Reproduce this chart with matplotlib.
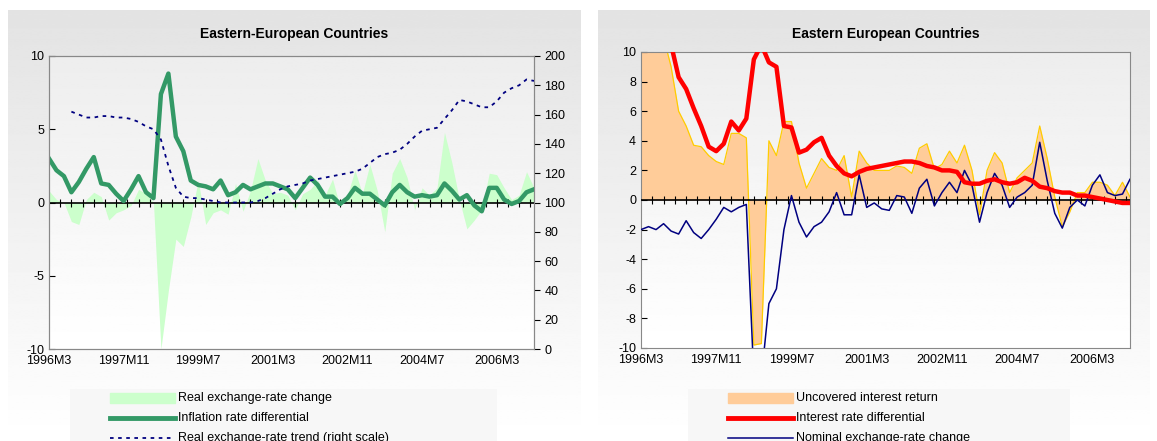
import numpy as np
import matplotlib.pyplot as plt
from matplotlib.patches import Rectangle

plt.rcParams['font.family'] = ['Liberation Sans', 'DejaVu Sans']
plt.rcParams['axes.unicode_minus'] = False

tick_labels = ["1996M3", "1997M11", "1999M7", "2001M3", "2002M11", "2004M7", "2006M3"]
tick_months = [0, 20, 40, 60, 80, 100, 120]

# values every 2 months starting 1996M3 (month index 0,2,...,130)
infl_diff = [3.0, 2.2, 1.8, 0.7, 1.4, 2.3, 3.1, 1.3, 1.2, 0.6, 0.1, 0.9, 1.8, 0.7, 0.3, 7.4, 8.8, 4.5,
             3.5, 1.5, 1.2, 1.1, 0.9, 1.5, 0.5, 0.7, 1.2, 0.9, 1.1, 1.3, 1.3, 1.1, 0.9, 0.3, 1.0, 1.7,
             1.2, 0.4, 0.4, -0.1, 0.3, 1.0, 0.6, 0.6, 0.2, -0.2, 0.7, 1.2, 0.7, 0.4, 0.5, 0.4, 0.5,
             1.3, 0.8, 0.2, 0.5, -0.2, -0.6, 1.0, 1.0, 0.2, -0.1, 0.1, 0.7, 0.9]
real_fx = [0.8, 0.2, 0.0, -1.3, -1.5, 0.2, 0.7, 0.4, -1.2, -0.7, -0.5, -0.2, 0.9, 0.6, 0.0, -10.0, -6.0,
           -2.5, -3.0, -1.0, 1.5, -1.5, -0.7, -0.5, -0.8, 1.3, -0.6, 0.8, 3.0, 1.5, 0.6, 0.7, 0.5,
           -0.5, 0.6, 0.9, 1.5, 0.5, 1.6, -0.3, 0.5, 2.2, 0.6, 2.6, 0.8, -2.0, 2.0, 3.0, 1.7, -0.5,
           1.0, 0.5, 1.0, 4.8, 2.7, 0.2, -1.8, -1.2, -0.5, 2.0, 1.9, 1.0, 0.2, 0.5, 2.1, 1.0]
real_trend = [np.nan, np.nan, np.nan, 162, 160, 158, 158, 159, 159, 158, 158, 157, 155, 152, 150, 143,
              125, 110, 104, 103, 103, 102, 101, 100, 100, 100, 100, 100, 101, 103, 106, 109, 111,
              112, 113, 115, 116, 117, 118, 119, 120, 121, 123, 127, 131, 133, 134, 136, 140, 145,
              149, 150, 151, 157, 163, 170, 169, 167, 165, 165, 169, 175, 178, 180, 184, 183]

int_diff = [14, 14, 13, 12, 10.5, 8.3, 7.5, 6.2, 5.0, 3.6, 3.3, 3.8, 5.3, 4.7, 5.5, 9.5, 10.5, 9.3,
            9.0, 5.0, 4.9, 3.2, 3.4, 3.9, 4.2, 3.0, 2.3, 1.8, 1.6, 1.9, 2.1, 2.2, 2.3, 2.4, 2.5, 2.6,
            2.6, 2.5, 2.3, 2.2, 2.0, 2.0, 1.9, 1.2, 1.1, 1.1, 1.3, 1.4, 1.2, 1.1, 1.2, 1.5, 1.3, 0.9,
            0.8, 0.6, 0.5, 0.5, 0.3, 0.3, 0.2, 0.1, 0.0, -0.1, -0.2, -0.2]
nominal_fx = [-2.0, -1.8, -2.0, -1.6, -2.1, -2.3, -1.4, -2.2, -2.6, -2.0, -1.3, -0.5, -0.8, -0.5, -0.3,
              -12, -12, -7.0, -6.0, -2.0, 0.3, -1.5, -2.5, -1.8, -1.5, -0.8, 0.5, -1.0, -1.0, 1.7,
              -0.5, -0.2, -0.6, -0.7, 0.3, 0.2, -0.9, 0.8, 1.4, -0.4, 0.5, 1.2, 0.5, 2.0, 1.0, -1.5,
              0.5, 1.8, 1.0, -0.5, 0.2, 0.5, 1.0, 3.9, 1.3, -0.9, -1.9, -0.5, 0.0, -0.4, 1.0, 1.7,
              0.5, 0.3, 0.4, 1.4]
uncovered = [12, 12, 12, 11, 9, 6, 5, 3.7, 3.6, 3.0, 2.6, 2.4, 4.5, 4.5, 4.2, -9.8, -9.7, 4.0, 3.0,
             5.3, 5.3, 2.5, 0.8, 1.8, 2.8, 2.2, 2.0, 3.0, 0.2, 3.3, 2.5, 2.0, 2.0, 2.0, 2.3, 2.2,
             1.8, 3.5, 3.8, 2.1, 2.4, 3.3, 2.5, 3.7, 2.0, -1.0, 2.0, 3.2, 2.5, 0.5, 1.5, 2.0, 2.5,
             5.0, 2.8, 0.2, -1.8, -0.8, 0.5, 0.5, 1.2, 1.2, 1.0, 0.3, 1.2, 0.2]

x = np.arange(len(infl_diff)) * 2
W, H = 1157, 441
fig = plt.figure(figsize=(W / 100, H / 100), dpi=100)
fig.patch.set_facecolor("white")

grad = np.linspace(0.89, 1.0, 256).reshape(-1, 1)
def panel(x0, x1, y0, y1):
    a = fig.add_axes([x0 / W, 1 - y1 / H, (x1 - x0) / W, (y1 - y0) / H], zorder=-5)
    a.imshow(grad, cmap="gray", vmin=0, vmax=1, aspect="auto", extent=[0, 1, 0, 1])
    a.axis("off")

panel(8, 581, 10, 441)
panel(598, 1150, 10, 441)

def mk_ax(x0, x1, y0, y1):
    a = fig.add_axes([x0 / W, 1 - y1 / H, (x1 - x0) / W, (y1 - y0) / H])
    a.set_facecolor("none")
    a.imshow(np.linspace(0.93, 1.0, 256).reshape(-1, 1), cmap="gray", vmin=0, vmax=1,
             aspect="auto", extent=[0, 130, -10, 10], zorder=-1)
    a.set_xlim(0, 130)
    a.set_ylim(-10, 10)
    a.set_xticks(tick_months)
    a.set_xticklabels(tick_labels)
    a.tick_params(axis="x", length=0, labelsize=9, pad=4)
    a.tick_params(axis="y", labelsize=9, direction="in", length=4)
    for s in a.spines.values():
        s.set_color("#888888")
    a.axhline(0, color="black", lw=1.2, zorder=3)
    qm = np.arange(3, 130, 3)
    a.plot(qm, np.zeros_like(qm), ls="none", marker="|", ms=6, color="black", mew=0.8, zorder=3)
    return a

# Left
ax1 = mk_ax(49, 534, 56, 349)
ax1.set_yticks([-10, -5, 0, 5, 10])
ax1.fill_between(x, real_fx, 0, color="#ccffcc", lw=0, zorder=1)
ax1.plot(x, infl_diff, color="#339966", lw=3.2, zorder=4)
ax2 = ax1.twinx()
ax2.set_ylim(0, 200)
ax2.set_yticks(range(0, 201, 20))
ax2.tick_params(axis="y", labelsize=9, direction="out", length=4)
ax2.plot(x, real_trend, color="#000080", lw=1.3, ls=(0, (2, 2.5)), zorder=4)
for s in ax2.spines.values():
    s.set_color("#888888")
fig.text(294 / W, 1 - 34 / H, "Eastern-European Countries", ha="center", va="center",
         fontsize=10, fontweight="bold")

# Right
ax3 = mk_ax(641, 1130, 52, 348)
ax3.set_yticks(range(-10, 11, 2))
ax3.fill_between(x, uncovered, 0, color="#ffcc99", lw=0, zorder=1)
ax3.plot(x, uncovered, color="#ffcc00", lw=0.9, zorder=2)
ax3.plot(x, nominal_fx, color="#000080", lw=1.1, zorder=4)
ax3.plot(x, int_diff, color="#ff0000", lw=3.2, zorder=5)
fig.text(886 / W, 1 - 34 / H, "Eastern European Countries", ha="center", va="center",
         fontsize=10, fontweight="bold")

# Legends
def legend_box(x0, x1, items):
    a = fig.add_axes([x0 / W, 0, (x1 - x0) / W, 52 / H], zorder=2)
    a.set_xlim(0, x1 - x0)
    a.set_ylim(441, 389)
    a.add_patch(Rectangle((0, 389), x1 - x0, 60, color="#f7f7f7", zorder=0))
    a.axis("off")
    for i, (kind, col, lab) in enumerate(items):
        yy = 398 + i * 20
        if kind == "patch":
            a.add_patch(Rectangle((40, yy - 5), 65, 10, color=col, zorder=1))
        elif kind == "thick":
            a.plot([40, 105], [yy, yy], color=col, lw=3.5)
        elif kind == "thin":
            a.plot([40, 105], [yy, yy], color=col, lw=1.1)
        elif kind == "dot":
            a.plot([40, 105], [yy, yy], color=col, lw=1.3, ls=(0, (2, 2.5)))
        a.text(108, yy, lab, va="center", ha="left", fontsize=9)

legend_box(70, 497, [("patch", "#ccffcc", "Real exchange-rate change"),
                     ("thick", "#339966", "Inflation rate differential"),
                     ("dot", "#000080", "Real exchange-rate trend (right scale)")])
legend_box(688, 1070, [("patch", "#ffcc99", "Uncovered interest return"),
                       ("thick", "#ff0000", "Interest rate differential"),
                       ("thin", "#000080", "Nominal exchange-rate change")])

fig.savefig("out.png", dpi=100)
